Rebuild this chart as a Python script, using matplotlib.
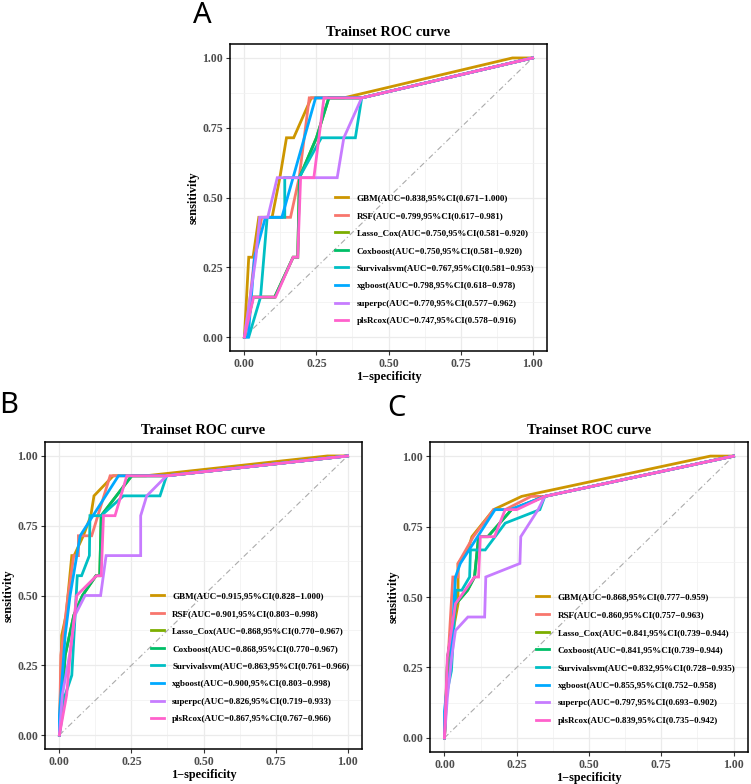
import matplotlib
matplotlib.use('Agg')
import matplotlib.pyplot as plt
from matplotlib.ticker import MultipleLocator

# ------------------------------
# 1. Data
# ------------------------------
models = ['GBM', 'RSF', 'Lasso_Cox', 'Coxboost', 'Survivalsvm', 'xgboost', 'superpc', 'plsRcox']
colors = ['#CD9600', '#F8766D', '#7CAE00', '#00BE67', '#00BFC4', '#00A9FF', '#C77CFF', '#FF61CC']

# panel A
a_auc = [0.838, 0.799, 0.750, 0.750, 0.767, 0.798, 0.770, 0.747]
a_lo = [0.671, 0.617, 0.581, 0.581, 0.581, 0.618, 0.577, 0.578]
a_hi = [1.000, 0.981, 0.920, 0.920, 0.953, 0.978, 0.962, 0.916]

a_gbm_x = [0, 0.015, 0.03, 0.05, 0.096, 0.123, 0.146, 0.171, 0.232, 0.345, 0.93, 1]
a_gbm_y = [0, 0.286, 0.286, 0.429, 0.429, 0.571, 0.714, 0.714, 0.857, 0.857, 1, 1]
a_rsf_x = [0, 0.02, 0.035, 0.06, 0.125, 0.16, 0.19, 0.225, 0.407, 1]
a_rsf_y = [0, 0.143, 0.286, 0.429, 0.429, 0.429, 0.571, 0.857, 0.857, 1]
a_lasso_x = [0, 0.03, 0.105, 0.169, 0.185, 0.191, 0.25, 0.293, 0.407, 1]
a_lasso_y = [0, 0.143, 0.143, 0.286, 0.286, 0.571, 0.714, 0.857, 0.857, 1]
a_coxb_x = [0, 0.03, 0.105, 0.169, 0.185, 0.191, 0.25, 0.293, 0.407, 1]
a_coxb_y = [0, 0.143, 0.143, 0.286, 0.286, 0.571, 0.714, 0.857, 0.857, 1]
a_svm_x = [0, 0.015, 0.056, 0.079, 0.125, 0.14, 0.14, 0.19, 0.267, 0.385, 0.407, 1]
a_svm_y = [0, 0, 0.143, 0.429, 0.429, 0.429, 0.571, 0.571, 0.714, 0.714, 0.857, 1]
a_xgb_x = [0, 0.013, 0.035, 0.073, 0.13, 0.247, 0.407, 1]
a_xgb_y = [0, 0, 0.286, 0.429, 0.429, 0.857, 0.857, 1]
a_spc_x = [0, 0.02, 0.04, 0.053, 0.081, 0.114, 0.322, 0.345, 0.407, 1]
a_spc_y = [0, 0.143, 0.286, 0.429, 0.429, 0.571, 0.571, 0.714, 0.857, 1]
a_pls_x = [0, 0.032, 0.108, 0.169, 0.185, 0.195, 0.241, 0.276, 0.407, 1]
a_pls_y = [0, 0.143, 0.143, 0.286, 0.286, 0.571, 0.571, 0.857, 0.857, 1]

# panel B
b_auc = [0.915, 0.901, 0.868, 0.868, 0.863, 0.900, 0.826, 0.867]
b_lo = [0.828, 0.803, 0.770, 0.770, 0.761, 0.803, 0.719, 0.767]
b_hi = [1.000, 0.998, 0.967, 0.967, 0.966, 0.998, 0.933, 0.966]

b_gbm_x = [0, 0.008, 0.023, 0.043, 0.051, 0.083, 0.109, 0.12, 0.187, 0.30, 0.93, 1]
b_gbm_y = [0, 0.357, 0.429, 0.643, 0.643, 0.714, 0.786, 0.857, 0.929, 0.929, 1, 1]
b_rsf_x = [0, 0.005, 0.03, 0.05, 0.066, 0.066, 0.112, 0.176, 0.372, 1]
b_rsf_y = [0, 0.286, 0.5, 0.643, 0.643, 0.714, 0.714, 0.929, 0.929, 1]
b_lasso_x = [0, 0.02, 0.05, 0.08, 0.127, 0.14, 0.145, 0.251, 0.372, 1]
b_lasso_y = [0, 0.286, 0.429, 0.5, 0.571, 0.571, 0.786, 0.929, 0.929, 1]
b_coxb_x = [0, 0.02, 0.05, 0.08, 0.127, 0.14, 0.145, 0.251, 0.372, 1]
b_coxb_y = [0, 0.286, 0.429, 0.5, 0.571, 0.571, 0.786, 0.929, 0.929, 1]
b_svm_x = [0, 0.02, 0.043, 0.062, 0.077, 0.104, 0.106, 0.145, 0.222, 0.349, 0.372, 1]
b_svm_y = [0, 0.143, 0.214, 0.571, 0.571, 0.643, 0.786, 0.786, 0.857, 0.857, 0.929, 1]
b_xgb_x = [0, 0, 0.02, 0.037, 0.072, 0.205, 0.372, 1]
b_xgb_y = [0, 0.071, 0.357, 0.5, 0.714, 0.929, 0.929, 1]
b_spc_x = [0, 0.01, 0.035, 0.054, 0.089, 0.143, 0.162, 0.282, 0.282, 0.303, 0.372, 1]
b_spc_y = [0, 0.143, 0.286, 0.429, 0.5, 0.5, 0.643, 0.643, 0.786, 0.857, 0.929, 1]
b_pls_x = [0, 0.025, 0.037, 0.06, 0.129, 0.145, 0.153, 0.193, 0.234, 0.372, 1]
b_pls_y = [0, 0.143, 0.286, 0.5, 0.571, 0.571, 0.786, 0.786, 0.929, 0.929, 1]

# panel C
c_auc = [0.868, 0.860, 0.841, 0.841, 0.832, 0.855, 0.797, 0.839]
c_lo = [0.777, 0.757, 0.739, 0.739, 0.728, 0.752, 0.693, 0.735]
c_hi = [0.959, 0.963, 0.944, 0.944, 0.935, 0.958, 0.902, 0.942]

c_gbm_x = [0, 0.015, 0.03, 0.047, 0.047, 0.081, 0.095, 0.17, 0.267, 0.92, 1]
c_gbm_y = [0, 0.286, 0.381, 0.476, 0.619, 0.667, 0.714, 0.81, 0.857, 1, 1]
c_rsf_x = [0, 0.01, 0.029, 0.047, 0.047, 0.1, 0.17, 0.21, 0.3, 0.347, 1]
c_rsf_y = [0, 0.238, 0.571, 0.571, 0.619, 0.714, 0.81, 0.81, 0.857, 0.857, 1]
c_lasso_x = [0, 0.011, 0.04, 0.08, 0.104, 0.118, 0.15, 0.232, 0.347, 1]
c_lasso_y = [0, 0.286, 0.476, 0.524, 0.571, 0.714, 0.714, 0.81, 0.857, 1]
c_coxb_x = [0, 0.011, 0.04, 0.08, 0.104, 0.118, 0.15, 0.232, 0.347, 1]
c_coxb_y = [0, 0.286, 0.476, 0.524, 0.571, 0.714, 0.714, 0.81, 0.857, 1]
c_svm_x = [0, 0.005, 0.024, 0.04, 0.06, 0.087, 0.09, 0.141, 0.21, 0.33, 0.347, 1]
c_svm_y = [0, 0.143, 0.238, 0.524, 0.524, 0.571, 0.667, 0.667, 0.762, 0.81, 0.857, 1]
c_xgb_x = [0, 0, 0.01, 0.02, 0.038, 0.055, 0.175, 0.227, 0.347, 1]
c_xgb_y = [0, 0.095, 0.19, 0.238, 0.571, 0.619, 0.81, 0.81, 0.857, 1]
c_spc_x = [0, 0.01, 0.025, 0.038, 0.081, 0.139, 0.143, 0.261, 0.264, 0.324, 0.347, 1]
c_spc_y = [0, 0.143, 0.286, 0.381, 0.429, 0.429, 0.571, 0.619, 0.714, 0.81, 0.857, 1]
c_pls_x = [0, 0.01, 0.038, 0.104, 0.118, 0.124, 0.173, 0.21, 0.25, 0.347, 1]
c_pls_y = [0, 0.286, 0.476, 0.571, 0.571, 0.714, 0.714, 0.81, 0.81, 0.857, 1]

a_curves = [(a_gbm_x, a_gbm_y), (a_rsf_x, a_rsf_y), (a_lasso_x, a_lasso_y), (a_coxb_x, a_coxb_y),
            (a_svm_x, a_svm_y), (a_xgb_x, a_xgb_y), (a_spc_x, a_spc_y), (a_pls_x, a_pls_y)]
b_curves = [(b_gbm_x, b_gbm_y), (b_rsf_x, b_rsf_y), (b_lasso_x, b_lasso_y), (b_coxb_x, b_coxb_y),
            (b_svm_x, b_svm_y), (b_xgb_x, b_xgb_y), (b_spc_x, b_spc_y), (b_pls_x, b_pls_y)]
c_curves = [(c_gbm_x, c_gbm_y), (c_rsf_x, c_rsf_y), (c_lasso_x, c_lasso_y), (c_coxb_x, c_coxb_y),
            (c_svm_x, c_svm_y), (c_xgb_x, c_xgb_y), (c_spc_x, c_spc_y), (c_pls_x, c_pls_y)]

# ------------------------------
# 2. Plot function
# ------------------------------
SERIF = 'Liberation Serif'


def roc_panel(ax, curves, auc, lo, hi, leg_xy):
    ticks = [0, 0.25, 0.5, 0.75, 1.0]
    ax.set_xlim(-0.05, 1.05)
    ax.set_ylim(-0.05, 1.05)
    ax.xaxis.set_major_locator(MultipleLocator(0.25))
    ax.yaxis.set_major_locator(MultipleLocator(0.25))
    ax.xaxis.set_minor_locator(MultipleLocator(0.125))
    ax.yaxis.set_minor_locator(MultipleLocator(0.125))
    ax.grid(True, which='major', color='#EBEBEB', lw=0.9)
    ax.grid(True, which='minor', color='#F2F2F2', lw=0.6)
    ax.set_axisbelow(True)
    ax.plot([0, 1], [0, 1], color='#ABABAB', lw=0.8, ls=(0, (5, 2.5, 1, 2.5)), zorder=1)

    for (x, y), m, c, a, l, h in zip(curves, models, colors, auc, lo, hi):
        ax.plot(x, y, color=c, lw=2.0, solid_joinstyle='miter',
                label=f'{m}(AUC={a:.3f},95%CI({l:.3f}\u2212{h:.3f})', zorder=2)

    ax.set_xticks(ticks)
    ax.set_xticklabels([f'{t:.2f}' for t in ticks])
    ax.set_yticks(ticks)
    ax.set_yticklabels([f'{t:.2f}' for t in ticks])
    ax.tick_params(which='major', length=3, width=0.8, color='#333333', labelsize=8.6,
                   labelcolor='#4D4D4D', pad=2)
    ax.tick_params(which='minor', length=0)
    for lab in ax.get_xticklabels() + ax.get_yticklabels():
        lab.set_fontfamily(SERIF)
        lab.set_fontweight('bold')
    for s in ax.spines.values():
        s.set_color('black')
        s.set_linewidth(1.1)

    ax.set_xlabel('1\u2212specificity', fontfamily=SERIF, fontweight='bold', fontsize=8.8, labelpad=1)
    ax.set_ylabel('sensitivity', fontfamily=SERIF, fontweight='bold', fontsize=8.8, labelpad=2)
    ax.set_title('Trainset ROC curve', fontfamily=SERIF, fontweight='bold', fontsize=10.3, pad=6)

    ax.legend(loc='upper left', bbox_to_anchor=leg_xy, frameon=False, borderpad=0, borderaxespad=0,
              handlelength=1.5, handletextpad=0.9, labelspacing=1.03,
              prop={'family': SERIF, 'weight': 'bold', 'size': 6.5})


# ------------------------------
# 3. Figure
# ------------------------------
W, H = 751, 784
fig = plt.figure(figsize=(W / 100, H / 100), dpi=100)


def px_axes(left, top, right, bottom):
    return fig.add_axes([left / W, 1 - bottom / H, (right - left) / W, (bottom - top) / H])


ax_a = px_axes(230, 44, 547, 351)
ax_b = px_axes(45, 442, 362, 749)
ax_c = px_axes(430, 442, 748, 752)

roc_panel(ax_a, a_curves, a_auc, a_lo, a_hi, (0.331, 0.512))
roc_panel(ax_b, b_curves, b_auc, b_lo, b_hi, (0.333, 0.512))
roc_panel(ax_c, c_curves, c_auc, c_lo, c_hi, (0.333, 0.512))

# panel letters, placed by baseline so the tall "A" stays inside the canvas
for letter, x, y in [('A', 202, 23), ('B', 9, 413), ('C', 396, 416)]:
    fig.text(x / W, 1 - y / H, letter, fontfamily='Noto Sans', fontsize=21,
             ha='center', va='baseline')

fig.savefig('out.png', dpi=100, facecolor='white')
